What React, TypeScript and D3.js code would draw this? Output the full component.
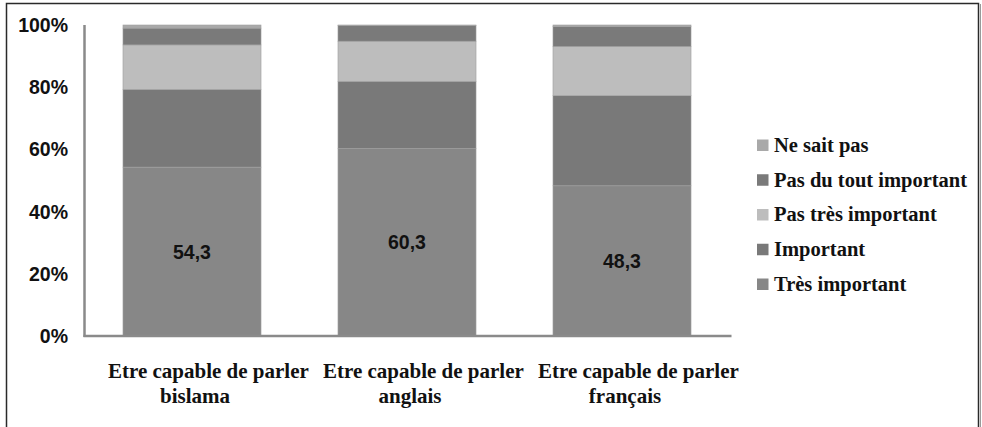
import React, { useEffect, useRef } from 'react';
import * as d3 from 'd3';

const WIDTH = 982;
const HEIGHT = 427;

// categories (two-line labels)
const categories = ['bislama', 'anglais', 'français'];
const labelLine1 = 'Etre capable de parler';

// series, bottom to top
const seriesNames = ['Très important', 'Important', 'Pas très important', 'Pas du tout important', 'Ne sait pas'];
const tresImportant = [54.3, 60.3, 48.3];
const important = [25.0, 21.6, 29.0];
const pasTresImportant = [14.3, 12.9, 15.8];
const pasDuToutImportant = [5.4, 5.0, 6.4];
const neSaitPas = [1.0, 0.2, 0.5];

const seriesColors = ['#878787', '#797979', '#bdbdbd', '#7a7a7a', '#a9a9a9'];
const yTicks = [0, 20, 40, 60, 80, 100];

const App: React.FC = () => {
  const ref = useRef<SVGSVGElement>(null);

  useEffect(() => {
    const svg = d3.select(ref.current);
    svg.selectAll('*').remove();

    const margin = { left: 84.5, top: 25, bottom: 336 };
    const x = d3.scaleBand().domain(categories).range([margin.left, margin.left + 645]).paddingInner(0.358).paddingOuter(0.179);
    const y = d3.scaleLinear().domain([0, 100]).range([margin.bottom, margin.top]);

    // outer frame
    svg.append('rect')
      .attr('x', 6.5).attr('y', 3.5).attr('width', 972).attr('height', 440)
      .attr('fill', 'white').attr('stroke', '#2a2a2a').attr('stroke-width', 1.5);
    svg.append('line')
      .attr('x1', 980.5).attr('x2', 980.5).attr('y1', 4).attr('y2', HEIGHT)
      .attr('stroke', '#9a9a9a').attr('stroke-width', 1);

    const rows = categories.map((c, i) => ({
      cat: c,
      'Très important': tresImportant[i],
      'Important': important[i],
      'Pas très important': pasTresImportant[i],
      'Pas du tout important': pasDuToutImportant[i],
      'Ne sait pas': neSaitPas[i],
    }));
    const stacked = d3.stack<any>().keys(seriesNames)(rows);

    const g = svg.append('g');
    stacked.forEach((layer, si) => {
      g.selectAll(null)
        .data(layer)
        .enter()
        .append('rect')
        .attr('x', (d: any) => x(d.data.cat)!)
        .attr('width', x.bandwidth())
        .attr('y', (d) => y(d[1]))
        .attr('height', (d) => y(d[0]) - y(d[1]))
        .attr('fill', seriesColors[si])
        .attr('stroke', '#a0a0a0')
        .attr('stroke-width', 0.6);
    });

    // axes lines
    svg.append('line')
      .attr('x1', margin.left).attr('x2', margin.left)
      .attr('y1', y(100)).attr('y2', y(0) + 1)
      .attr('stroke', '#8a8a8a').attr('stroke-width', 2.5);
    svg.append('line')
      .attr('x1', margin.left - 1).attr('x2', margin.left + 647)
      .attr('y1', y(0)).attr('y2', y(0))
      .attr('stroke', '#8a8a8a').attr('stroke-width', 2.5);

    // y tick labels
    svg.selectAll(null)
      .data(yTicks)
      .enter()
      .append('text')
      .attr('x', 68)
      .attr('y', (d) => y(d))
      .attr('dy', '0.36em')
      .attr('text-anchor', 'end')
      .attr('font-family', '"Liberation Sans", Arial, sans-serif')
      .attr('font-weight', 'bold')
      .attr('font-size', 19.5)
      .attr('fill', '#111')
      .text((d) => `${d}%`);

    // value labels (très important)
    svg.selectAll(null)
      .data(stacked[0])
      .enter()
      .append('text')
      .attr('x', (d: any) => x(d.data.cat)! + x.bandwidth() / 2)
      .attr('y', (d) => y((d[0] + d[1]) / 2))
      .attr('dy', '0.36em')
      .attr('text-anchor', 'middle')
      .attr('font-family', '"Liberation Sans", Arial, sans-serif')
      .attr('font-weight', 'bold')
      .attr('font-size', 19.5)
      .attr('fill', '#111')
      .text((d) => String(d[1] - d[0] > 0 ? (d[1] - d[0]).toFixed(1).replace('.', ',') : ''));

    // category labels
    const step = x.step();
    const defs = svg.append('defs');
    categories.forEach((c, i) => {
      const bandStart = x(c)! - x.step() * x.paddingInner() / 2;
      const sx = bandStart + 23.5;
      const cid = `clip-${i}`;
      defs.append('clipPath').attr('id', cid)
        .append('rect').attr('x', sx).attr('y', 350).attr('width', i < categories.length - 1 ? step - 1 : 400).attr('height', 40);
      svg.append('text')
        .attr('x', sx)
        .attr('y', 378)
        .attr('clip-path', `url(#${cid})`)
        .attr('font-family', '"Liberation Serif", "Times New Roman", serif')
        .attr('font-weight', 'bold')
        .attr('font-size', 21)
        .attr('fill', '#111')
        .text(labelLine1);
      svg.append('text')
        .attr('x', x(c)! + x.bandwidth() / 2 + 3)
        .attr('y', 403)
        .attr('text-anchor', 'middle')
        .attr('font-family', '"Liberation Serif", "Times New Roman", serif')
        .attr('font-weight', 'bold')
        .attr('font-size', 21)
        .attr('fill', '#111')
        .text(c);
    });

    // legend (top to bottom reversed order)
    const legendItems = seriesNames.map((n, i) => ({ n, c: seriesColors[i] })).reverse();
    const ly = d3.scalePoint().domain(legendItems.map((d) => d.n)).range([145, 284]);
    const lg = svg.append('g');
    lg.selectAll(null)
      .data(legendItems)
      .enter()
      .append('rect')
      .attr('x', 757)
      .attr('y', (d) => ly(d.n)! - 5.5)
      .attr('width', 11.5)
      .attr('height', 11.5)
      .attr('fill', (d) => d.c);
    lg.selectAll(null)
      .data(legendItems)
      .enter()
      .append('text')
      .attr('x', 774)
      .attr('y', (d) => ly(d.n)!)
      .attr('dy', '0.33em')
      .attr('font-family', '"Liberation Serif", "Times New Roman", serif')
      .attr('font-weight', 'bold')
      .attr('font-size', 20.5)
      .attr('fill', '#111')
      .text((d) => d.n);
  }, []);

  return (
    <svg
      ref={ref}
      width={WIDTH}
      height={HEIGHT}
      style={{ position: 'absolute', left: 0, top: 0, background: 'white' }}
    />
  );
};

export default App;
